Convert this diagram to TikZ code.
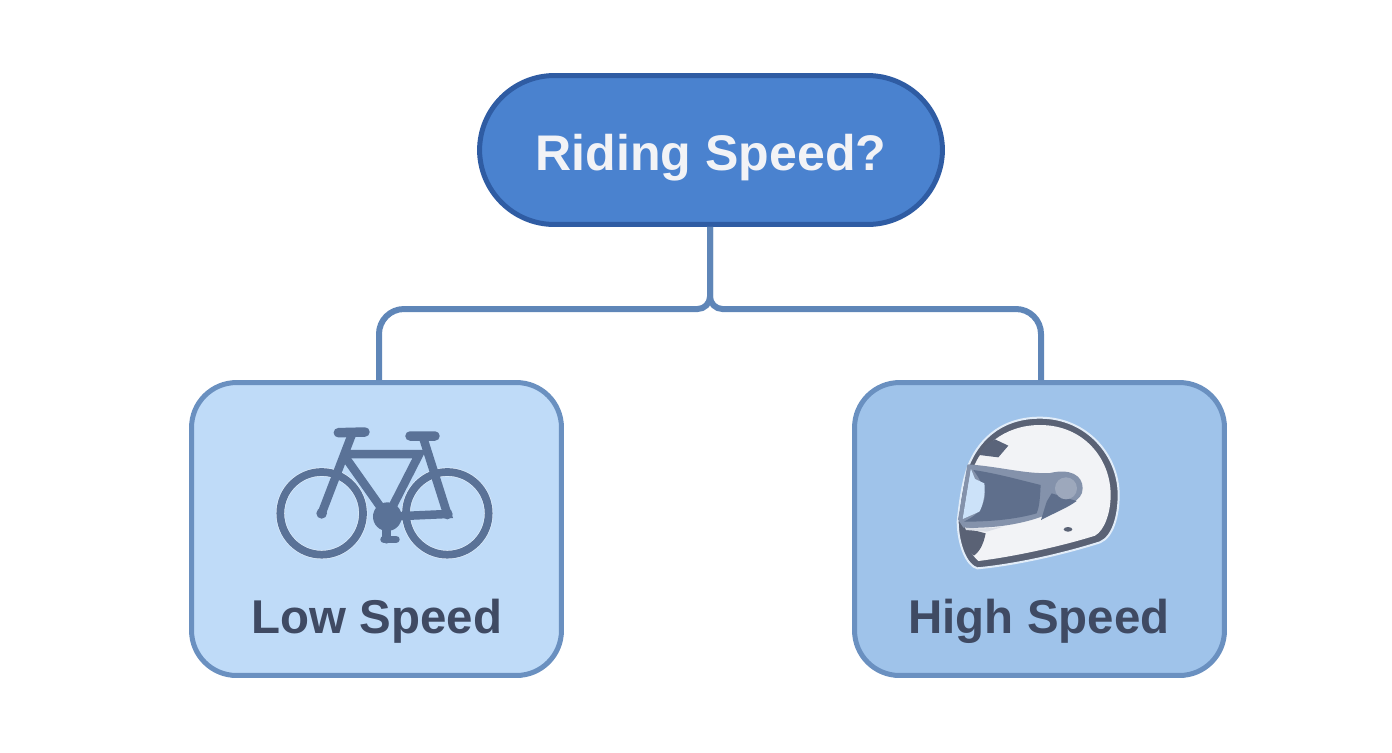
\documentclass[tikz,border=0pt]{standalone}
\usepackage{fontspec}
\setmainfont{Liberation Sans}
\definecolor{rootfill}{HTML}{4A82CF}
\definecolor{rootedge}{HTML}{2F5CA3}
\definecolor{lowfill}{HTML}{BFDBF8}
\definecolor{highfill}{HTML}{9FC3EA}
\definecolor{boxedge}{HTML}{6A90C0}
\definecolor{linkcol}{HTML}{5F86B8}
\definecolor{labelcol}{HTML}{3F4A63}
\definecolor{bikecol}{HTML}{5A7297}
\definecolor{shellcol}{HTML}{5A6275}
\definecolor{shellwhite}{HTML}{F2F3F6}
\definecolor{visorcol}{HTML}{8492AB}
\definecolor{eyecol}{HTML}{5F6F8C}
\tikzset{
  rootbox/.style={draw=rootedge, fill=rootfill, line width=0.1cm, rounded corners=1.5cm,
    minimum width=9.26cm, minimum height=2.98cm, text=shellwhite, font=\bfseries\fontsize{28.5}{32}\selectfont},
  speedbox/.style={draw=boxedge, line width=0.1cm, rounded corners=0.9cm,
    minimum width=7.4cm, minimum height=5.86cm},
  boxtext/.style={text=labelcol, font=\bfseries\fontsize{27}{32}\selectfont},
  link/.style={draw=linkcol, line width=0.12cm},
  bike/.style={draw=bikecol, line width=0.17cm, line cap=round}
}
\begin{document}
\begin{tikzpicture}[x=0.02cm,y=-0.02cm]
  \useasboundingbox (0,0) rectangle (1392,752);
  \node[rootbox, text depth=0pt] (root) at (711,150) {\raisebox{-0.1cm}{Riding Speed?}};
  \node[speedbox, fill=lowfill] (low) at (376.5,529) {};
  \node[speedbox, fill=highfill] (high) at (1039.5,529) {};
  \node[boxtext] (lowtext) at (377,621) {Low Speed};
  \node[boxtext] (hightext) at (1039,621) {High Speed};
  \coordinate (fork) at (710,309);
  \coordinate (lowdrop) at (379,380);
  \coordinate (highdrop) at (1041,380);
  \draw[link, rounded corners=0.25cm] (fork |- root.south) -- (fork) [rounded corners=0.5cm] -- (lowdrop |- fork) -- (lowdrop);
  \draw[link, rounded corners=0.25cm] (fork |- root.south) -- (fork) [rounded corners=0.5cm] -- (highdrop |- fork) -- (highdrop);
  % bicycle
  \begin{scope}[shift={(260,410)},x=0.00667cm,y=-0.00667cm]
    \draw[white!55!lowfill, line width=0.18cm] (185,310) circle (124) (562,310) circle (124);
    \draw[bike, line width=0.155cm] (185,310) circle (124) (562,310) circle (124);
    \draw[bike] (185,310) -- (275,75);
    \draw[bike] (490,85) -- (562,312) -- (382,320) -- (262,150);
    \draw[bike] (270,132) -- (478,132) -- (382,320);
    \draw[bike, line width=0.19cm] (235,68) -- (315,66) (450,78) -- (525,78);
    \fill[bikecol] (382,320) circle (43) (185,310) circle (16) (562,312) circle (16);
    \draw[bike] (380,350) -- (380,388);
    \draw[bike, line width=0.15cm] (372,388) -- (408,388);
  \end{scope}
  % helmet
  \begin{scope}[shift={(940,405)},x=0.00667cm,y=-0.00667cm]
    \draw[white!70!highfill, line width=0.04cm, line join=round, fill=shellcol]
      (112,490) .. controls (80,482) and (54,420) .. (53,350)
      .. controls (60,280) and (70,220) .. (86,180)
      .. controls (110,120) and (170,38) .. (300,38)
      .. controls (440,38) and (536,150) .. (536,270)
      .. controls (536,330) and (520,395) .. (480,412)
      .. controls (360,450) and (220,480) .. cycle;
    \fill[shellwhite]
      (115,468) .. controls (95,450) and (75,420) .. (75,370)
      -- (100,190) .. controls (120,130) and (190,60) .. (300,60)
      .. controls (430,60) and (512,160) .. (512,270)
      .. controls (512,320) and (495,375) .. (465,392)
      .. controls (360,425) and (220,455) .. cycle;
    % chin and top vent
    \fill[shellcol] (60,365) -- (137,385) .. controls (130,420) and (118,440) .. (102,452) .. controls (75,430) and (60,400) .. cycle;
    \fill[shellcol!85!bikecol] (118,150) -- (135,122) -- (165,103) -- (205,122) -- (175,157) -- cycle;
    % visor frame
    \fill[visorcol] (85,178) .. controls (180,185) and (260,208) .. (330,204)
      .. controls (390,190) and (428,210) .. (428,250)
      .. controls (428,290) and (380,300) .. (340,320)
      .. controls (280,350) and (180,372) .. (70,368) -- (55,345) -- cycle;
    \fill[eyecol] (100,195) .. controls (170,205) and (240,225) .. (302,240)
      .. controls (300,270) and (300,300) .. (290,325)
      .. controls (220,345) and (140,350) .. (72,350)
      .. controls (100,335) and (130,320) .. (135,270) .. controls (130,240) and (115,215) .. cycle;
    \fill[eyecol] (335,265) -- (410,288) .. controls (380,310) and (340,325) .. (303,345) -- (320,290) -- cycle;
    \fill[lowfill!80!white] (92,190) -- (105,222) -- (133,235) .. controls (138,270) and (125,310) .. (118,320) -- (68,342) -- cycle;
    \draw[visorcol, line width=0.08cm] (88,180) -- (60,345);
    \fill[white!70!visorcol] (75,368) .. controls (120,372) and (150,370) .. (190,365) -- (140,380) -- (78,375) -- cycle;
    \fill[visorcol!80!white] (378,250) circle (33);
    \fill[shellcol] (384,373) ellipse (13 and 7);
  \end{scope}
\end{tikzpicture}
\end{document}
